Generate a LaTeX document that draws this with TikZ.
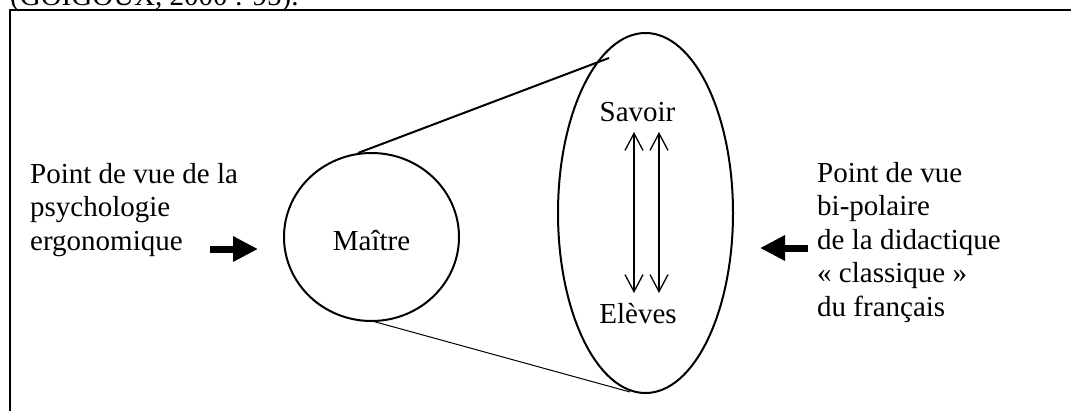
\documentclass[tikz,border=0pt]{standalone}
\usepackage{fontspec}
\setmainfont{Liberation Serif}
\usetikzlibrary{arrows.meta,shapes.geometric}
\begin{document}
\begin{tikzpicture}[x=1pt,y=-1pt,
  txt/.style={inner sep=0pt, font=\fontsize{29}{33.5}\selectfont},
  blk/.style={txt, align=left, anchor=base west},
  shapeline/.style={draw, ellipse, line width=2pt, inner sep=0pt},
  fatarrow/.style={line width=7pt, -{Triangle[length=25pt,width=24pt]}},
  thinarrow/.style={line width=1.3pt, {Straight Barb[length=17pt,width=18pt]}-{Straight Barb[length=17pt,width=18pt]}}]
\useasboundingbox (0,0) rectangle (1071,410);
\clip (0,0) rectangle (1071,410);
% frame
\draw[line width=2pt] (10,430) -- (10,10) -- (1090,10);
% caption cut off at top
\node[txt, anchor=base west] (src) at (10,5) {(GOIGOUX, 2000 : 95).};
% shapes
\node[shapeline, minimum width=175pt, minimum height=168pt] (maitre) at (371.5,237) {};
\node[shapeline, minimum width=175pt, minimum height=360pt] (tri) at (645.5,213) {};
\coordinate (mt) at (358,153);
\coordinate (tt) at (609,58);
\coordinate (mb) at (372,321);
\coordinate (tb) at (630,392);
\draw[line width=2pt] (mt) -- (tt);
\draw[line width=1pt] (mb) -- (tb);
% texts
\node[txt, anchor=base] (maitretxt) at (371.5,250) {Maître};
\node[txt, anchor=base] (savoir) at (637.5,121) {Savoir};
\node[txt, anchor=base] (eleves) at (638,323) {Elèves};
% double arrows
\coordinate (a1t) at (634,132);
\coordinate (a1b) at (634,293);
\coordinate (a2t) at (659,132);
\coordinate (a2b) at (659,293);
\draw[thinarrow] (a1t) -- (a1b);
\draw[thinarrow] (a2t) -- (a2b);
% side texts (anchored at the baseline of their last line)
\node[blk] (left) at (30,250) {Point de vue de la\\psychologie\\ergonomique};
\node[blk] (right) at (817,316) {Point de vue\\bi-polaire\\de la didactique\\« classique »\\du français};
% fat arrows
\coordinate (la) at (210,249);
\coordinate (lb) at (258,249);
\coordinate (ra) at (808,248);
\coordinate (rb) at (760,248);
\draw[fatarrow] (la) -- (lb);
\draw[fatarrow] (ra) -- (rb);
\end{tikzpicture}
\end{document}
